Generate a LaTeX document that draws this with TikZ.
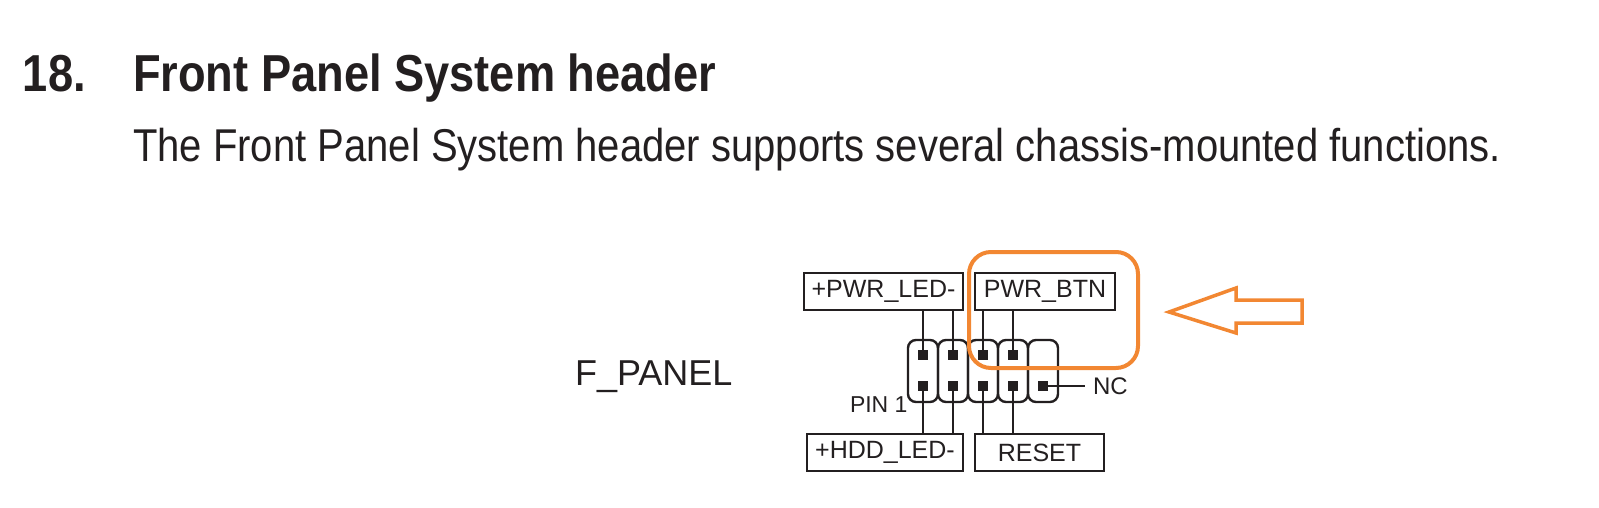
\documentclass[tikz,border=0pt]{standalone}
\usepackage{fontspec}
\setmainfont{Liberation Sans}
\newfontfamily\narrowfont[FakeStretch=0.87]{Liberation Sans}
\definecolor{ink}{RGB}{35,31,32}
\definecolor{hilite}{RGB}{242,135,50}
\tikzset{
	txt/.style={inner sep=0,outer sep=0,anchor=base west,text=ink},
	tagbox/.style={draw=ink,line width=2.6pt,inner sep=0,minimum height=37pt,text=ink,font=\fontsize{25}{25}\selectfont},
	cell/.style={draw=ink,line width=2.4pt,rounded corners=8pt},
	pin/.style={fill=ink,inner sep=0,outer sep=0,minimum size=10pt},
	lead/.style={draw=ink,line width=1.3pt},
}
\begin{document}
\begin{tikzpicture}[x=1pt,y=-1pt]
	\useasboundingbox (0,0) rectangle (1599,508);
	\node[txt,font=\narrowfont\fontsize{52}{60}\selectfont\bfseries] (num) at (23,92) {18.};
	\node[txt,font=\narrowfont\fontsize{52}{60}\selectfont\bfseries] (title) at (133,92) {Front Panel System header};
	\node[txt,font=\narrowfont\fontsize{46}{52}\selectfont] (intro) at (133,162) {The Front Panel System header supports several chassis-mounted functions.};
	\node[txt,font=\fontsize{36}{40}\selectfont] (fpanel) at (575,385) {F\_PANEL};
	\node[txt,font=\fontsize{23}{24}\selectfont] (pinone) at (850,412) {PIN 1};
	% labels
	\node[tagbox,minimum width=159pt] (pwrled) at (883.5,291.5) {+PWR\_LED-};
	\node[tagbox,minimum width=140pt] (pwrbtn) at (1045,291.5) {PWR\_BTN};
	\node[tagbox,minimum width=156pt] (hddled) at (885,452.5) {+HDD\_LED-};
	\node[tagbox,minimum width=129pt] (reset) at (1039.5,452.5) {RESET};
	% header
	\draw[cell] (908,340) rectangle (938,402);
	\draw[cell] (938,340) rectangle (968,402);
	\draw[cell] (968,340) rectangle (998,402);
	\draw[cell] (998,340) rectangle (1028,402);
	\draw[cell] (1028,340) rectangle (1058,402);
	\node[pin] (t1) at (923,355) {};
	\node[pin] (t2) at (953,355) {};
	\node[pin] (t3) at (983,355) {};
	\node[pin] (t4) at (1013,355) {};
	\node[pin] (b1) at (923,386) {};
	\node[pin] (b2) at (953,386) {};
	\node[pin] (b3) at (983,386) {};
	\node[pin] (b4) at (1013,386) {};
	\node[pin] (b5) at (1043,386) {};
	\node[txt,anchor=west,font=\fontsize{24}{24}\selectfont,inner sep=8pt] (nc) at (1085,386) {NC};
	\draw[lead] (t1) -- (t1 |- pwrled.south);
	\draw[lead] (t2) -- (t2 |- pwrled.south);
	\draw[lead] (t3) -- (t3 |- pwrbtn.south);
	\draw[lead] (t4) -- (t4 |- pwrbtn.south);
	\draw[lead] (b1) -- (b1 |- hddled.north);
	\draw[lead] (b2) -- (b2 |- hddled.north);
	\draw[lead] (b3) -- (b3 |- reset.north);
	\draw[lead] (b4) -- (b4 |- reset.north);
	\draw[lead] (b5) -- (nc.west);
	% highlight
	\draw[hilite,line width=4pt,rounded corners=22pt] (969,252) rectangle (1138,368);
	\draw[hilite,line width=3.5pt,fill=white] (1169,312) -- (1236,288) -- (1236,300) -- (1302,300) -- (1302,323) -- (1236,323) -- (1236,333) -- cycle;
\end{tikzpicture}
\end{document}
